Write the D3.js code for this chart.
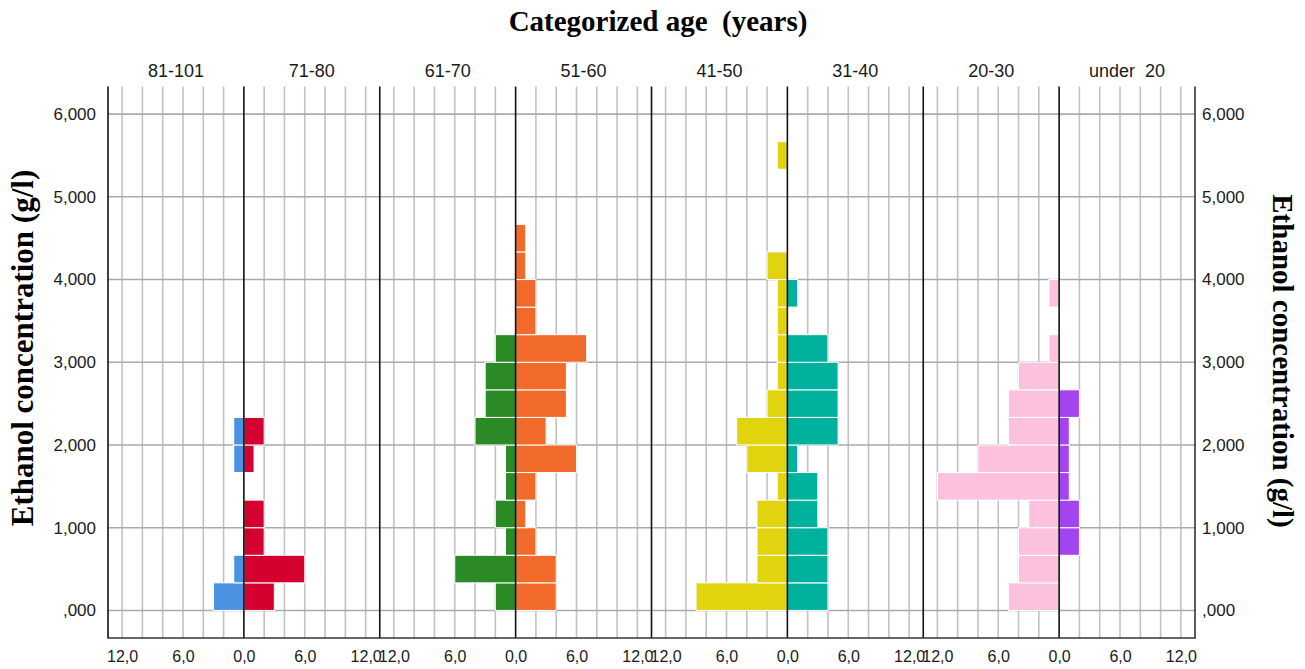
<!DOCTYPE html>
<html>
<head>
<meta charset="utf-8">
<script src="https://cdn.jsdelivr.net/npm/d3@7"></script>
<style>
  html, body { margin: 0; padding: 0; background: #fff; }
  svg { display: block; }
</style>
</head>
<body>
<svg id="chart" width="1305" height="669"></svg>
<script>
// ---- data ----
const ageGroups = ["81-101", "71-80", "61-70", "51-60", "41-50", "31-40", "20-30", "under  20"];
// ethanol concentration bins (g/l): bin i covers [i/3, (i+1)/3)
const binStarts = d3.range(17).map(i => i / 3);
const binWidth = 1 / 3;
const counts_81_101 = [3, 1, 0, 0, 0, 1, 1, 0, 0, 0, 0, 0, 0, 0, 0, 0, 0];
const counts_71_80  = [3, 6, 2, 2, 0, 1, 2, 0, 0, 0, 0, 0, 0, 0, 0, 0, 0];
const counts_61_70  = [2, 6, 1, 2, 1, 1, 4, 3, 3, 2, 0, 0, 0, 0, 0, 0, 0];
const counts_51_60  = [4, 4, 2, 1, 2, 6, 3, 5, 5, 7, 2, 2, 1, 1, 0, 0, 0];
const counts_41_50  = [9, 3, 3, 3, 1, 4, 5, 2, 1, 1, 1, 1, 2, 0, 0, 0, 1];
const counts_31_40  = [4, 4, 4, 3, 3, 1, 5, 5, 5, 4, 0, 1, 0, 0, 0, 0, 0];
const counts_20_30  = [5, 4, 4, 3, 12, 8, 5, 5, 4, 1, 0, 1, 0, 0, 0, 0, 0];
const counts_under20 = [0, 0, 2, 2, 1, 1, 1, 2, 0, 0, 0, 0, 0, 0, 0, 0, 0];
const groupCounts = [counts_81_101, counts_71_80, counts_61_70, counts_51_60,
                     counts_41_50, counts_31_40, counts_20_30, counts_under20];
const groupColors = ["#4b92e3", "#d4002f", "#2b8926", "#f26a2a",
                     "#e1d40f", "#00b29e", "#fcc1df", "#a444f0"];
const xTicks = [-12, -6, 0, 6, 12];
const xGrid = d3.range(-12, 13, 2);
const yTicks = [0, 1, 2, 3, 4, 5, 6];

// ---- layout ----
const svg = d3.select("#chart");
const plotLeft = 108, plotRight = 1195, plotTop = 86.5, plotBottom = 638;
const nPanels = 4;
const panelW = (plotRight - plotLeft) / nPanels;
const xHalf = 13.39;

const y = d3.scaleLinear().domain([-1 / 3, 19 / 3]).range([plotBottom, plotTop]);
const panelScales = d3.range(nPanels).map(p =>
  d3.scaleLinear().domain([-xHalf, xHalf]).range([plotLeft + p * panelW, plotLeft + (p + 1) * panelW]));

const fmtY = v => v === 0 ? ",000" : d3.format(".3f")(v).replace(".", ",");
const fmtX = v => d3.format(".1f")(Math.abs(v)).replace(".", ",");

// grid
const grid = svg.append("g");
panelScales.forEach(x => {
  xGrid.forEach(v => {
    if (v === 0) return;
    grid.append("line")
      .attr("x1", x(v)).attr("x2", x(v))
      .attr("y1", plotTop).attr("y2", plotBottom)
      .attr("stroke", "#c2c2c2").attr("stroke-width", 1.6);
  });
});
yTicks.forEach(v => {
  grid.append("line")
    .attr("x1", plotLeft).attr("x2", plotRight)
    .attr("y1", y(v)).attr("y2", y(v))
    .attr("stroke", "#aaaaaa").attr("stroke-width", 1.6);
});

// bars
const bars = svg.append("g");
groupCounts.forEach((counts, gi) => {
  const p = Math.floor(gi / 2);
  const side = gi % 2 === 0 ? -1 : 1;
  const x = panelScales[p];
  const data = binStarts.map((b, i) => ({ b, c: counts[i] })).filter(d => d.c > 0);
  bars.selectAll(null).data(data).enter().append("rect")
    .attr("x", d => side < 0 ? x(-d.c) : x(0))
    .attr("width", d => Math.abs(x(d.c) - x(0)))
    .attr("y", d => y(d.b + binWidth))
    .attr("height", d => y(d.b) - y(d.b + binWidth))
    .attr("fill", groupColors[gi])
    .attr("stroke", "#fff").attr("stroke-width", 1);
});

// black lines: panel centres and separators
const lines = svg.append("g");
panelScales.forEach((x, p) => {
  [x(0), x.range()[0]].forEach(xx => {
    lines.append("line")
      .attr("x1", xx).attr("x2", xx).attr("y1", plotTop).attr("y2", plotBottom)
      .attr("stroke", "#111").attr("stroke-width", 1.6);
  });
});
lines.append("line").attr("x1", plotRight).attr("x2", plotRight)
  .attr("y1", plotTop).attr("y2", plotBottom).attr("stroke", "#333").attr("stroke-width", 1.6);
lines.append("line").attr("x1", plotLeft - 0.8).attr("x2", plotRight + 0.8)
  .attr("y1", plotBottom).attr("y2", plotBottom).attr("stroke", "#333").attr("stroke-width", 1.6);

// axes
const tickFont = "'Liberation Sans', Arial, sans-serif";
panelScales.forEach(x => {
  const ax = svg.append("g").attr("transform", `translate(0,${plotBottom})`)
    .call(d3.axisBottom(x).tickValues(xTicks).tickFormat(fmtX).tickSize(0).tickPadding(13));
  ax.select(".domain").remove();
  ax.selectAll("text").attr("font-size", 16).attr("font-family", tickFont).attr("fill", "#1a1a1a");
});
const axL = svg.append("g").attr("transform", `translate(${plotLeft},0)`)
  .call(d3.axisLeft(y).tickValues(yTicks).tickFormat(fmtY).tickSize(0).tickPadding(12));
axL.select(".domain").remove();
axL.selectAll("text").attr("font-size", 17).attr("font-family", tickFont).attr("fill", "#1a1a1a");
const axR = svg.append("g").attr("transform", `translate(${plotRight},0)`)
  .call(d3.axisRight(y).tickValues(yTicks).tickFormat(fmtY).tickSize(0).tickPadding(7));
axR.select(".domain").remove();
axR.selectAll("text").attr("font-size", 17).attr("font-family", tickFont).attr("fill", "#1a1a1a");

// category labels
const catX = d3.scaleBand().domain(ageGroups).range([plotLeft, plotRight]);
svg.append("g").selectAll("text").data(ageGroups).enter().append("text")
  .attr("x", d => catX(d) + catX.bandwidth() / 2)
  .attr("y", 77)
  .attr("text-anchor", "middle")
  .attr("font-family", tickFont).attr("font-size", 18).attr("fill", "#1a1a1a")
  .style("white-space", "pre")
  .text(d => d);

// titles
const titleFont = "'Liberation Serif', 'Times New Roman', serif";
svg.append("text").attr("x", 658).attr("y", 31).attr("text-anchor", "middle")
  .attr("font-family", titleFont).attr("font-weight", "bold").attr("font-size", 29)
  .style("white-space", "pre")
  .text("Categorized age  (years)");
svg.append("text").attr("transform", "translate(33,348) rotate(-90)")
  .attr("text-anchor", "middle")
  .attr("font-family", titleFont).attr("font-weight", "bold").attr("font-size", 31)
  .text("Ethanol concentration (g/l)");
svg.append("text").attr("transform", "translate(1273,361) rotate(90)")
  .attr("text-anchor", "middle")
  .attr("font-family", titleFont).attr("font-weight", "bold").attr("font-size", 29)
  .text("Ethanol concentration (g/l)");
</script>
</body>
</html>
